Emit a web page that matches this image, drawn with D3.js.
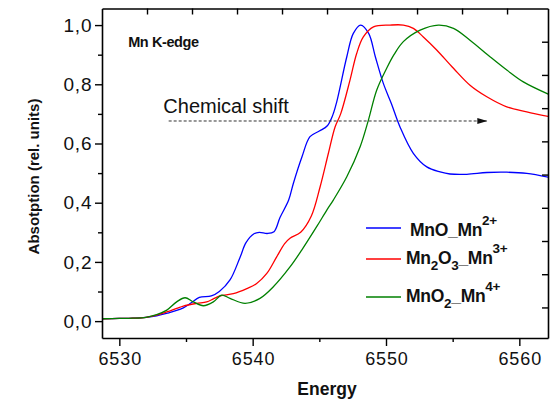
<!DOCTYPE html>
<html>
<head>
<meta charset="utf-8">
<script src="https://cdn.jsdelivr.net/npm/d3@7/dist/d3.min.js"></script>
<style>
  html, body { margin: 0; padding: 0; background: #fff; }
  svg { display: block; font-family: "Liberation Sans", Arial, sans-serif; }
</style>
</head>
<body>
<svg id="chart" width="551" height="401"></svg>
<script>
// Mn K-edge XANES spectra of three manganese oxides
const mnoEnergy = [6528.7, 6530, 6531, 6532, 6532.8, 6533.6, 6534.3, 6534.8, 6535.4, 6536.0, 6536.9, 6537.5, 6538.3, 6539.05, 6539.5, 6540.1, 6540.5, 6541.1, 6541.6, 6542.05, 6542.7, 6543.05, 6543.7, 6544.3, 6545.0, 6545.6, 6546.0, 6546.3, 6547.06, 6547.55, 6548.1, 6548.7, 6549.2, 6549.8, 6550.4, 6551.05, 6552.05, 6553.06, 6554.06, 6554.8, 6556.06, 6557.56, 6559.06, 6560.56, 6562.3];
const mnoAbs    = [0.008, 0.009, 0.010, 0.013, 0.018, 0.027, 0.036, 0.045, 0.062, 0.080, 0.085, 0.100, 0.139, 0.215, 0.265, 0.295, 0.300, 0.296, 0.302, 0.350, 0.409, 0.465, 0.555, 0.623, 0.642, 0.660, 0.695, 0.740, 0.893, 0.972, 1.000, 0.972, 0.893, 0.803, 0.735, 0.656, 0.567, 0.521, 0.504, 0.497, 0.496, 0.502, 0.503, 0.499, 0.485];

const mn2o3Energy = [6528.7, 6530, 6531, 6532, 6532.8, 6533.56, 6534.3, 6534.8, 6535.8, 6536.55, 6537.05, 6537.55, 6538.55, 6539.56, 6540.3, 6541.06, 6541.8, 6542.4, 6542.8, 6543.6, 6544.4, 6545.06, 6545.68, 6546.18, 6546.6, 6547.3, 6547.8, 6548.3, 6549.06, 6550.3, 6551.3, 6552.05, 6552.8, 6553.8, 6555.06, 6556.3, 6557.56, 6559.06, 6560.56, 6562.3];
const mn2o3Abs    = [0.008, 0.009, 0.010, 0.013, 0.020, 0.031, 0.043, 0.051, 0.060, 0.065, 0.075, 0.085, 0.093, 0.110, 0.127, 0.161, 0.217, 0.262, 0.280, 0.300, 0.355, 0.454, 0.567, 0.656, 0.700, 0.814, 0.904, 0.960, 0.994, 1.000, 1.000, 0.989, 0.960, 0.916, 0.854, 0.797, 0.758, 0.724, 0.707, 0.690];

const mno2Energy = [6528.7, 6530, 6531, 6532, 6532.8, 6533.56, 6534.3, 6534.93, 6535.55, 6536.3, 6537.05, 6537.68, 6538.3, 6539.43, 6540.55, 6541.55, 6542.8, 6543.68, 6544.8, 6545.56, 6546.05, 6547.06, 6548.06, 6548.68, 6549.3, 6550.06, 6550.6, 6551.3, 6552.56, 6553.93, 6555.06, 6556.3, 6557.8, 6559.06, 6560.3, 6562.3];
const mno2Abs    = [0.008, 0.009, 0.010, 0.013, 0.022, 0.037, 0.065, 0.079, 0.065, 0.052, 0.065, 0.088, 0.077, 0.060, 0.077, 0.116, 0.183, 0.240, 0.319, 0.375, 0.409, 0.4875, 0.589, 0.679, 0.780, 0.855, 0.900, 0.944, 0.983, 1.000, 0.989, 0.949, 0.893, 0.848, 0.808, 0.764];

const seriesNames  = ["MnO_Mn2+", "Mn2O3_Mn3+", "MnO2_Mn4+"];
const seriesColors = ["#0000ff", "#ff0000", "#008000"];

const xTicks = [6530, 6540, 6550, 6560];
const xMinorTicks = [6535, 6545, 6555];
const yTicks = [0.0, 0.2, 0.4, 0.6, 0.8, 1.0];
const yMinorTicks = [0.1, 0.3, 0.5, 0.7, 0.9];

const svg = d3.select("#chart");
const plot = { left: 102, right: 548, top: 8.5, bottom: 338 };

const x = d3.scaleLinear().domain([6528.7, 6562.15]).range([plot.left, plot.right]);
const y = d3.scaleLinear().domain([-0.057, 1.056]).range([plot.bottom, plot.top]);

svg.append("rect").attr("width", 551).attr("height", 401).attr("fill", "#fff");

svg.append("defs").append("clipPath").attr("id", "clip")
  .append("rect")
  .attr("x", plot.left).attr("y", plot.top)
  .attr("width", plot.right - plot.left).attr("height", plot.bottom - plot.top);

// Curves
const series = [
  { e: mnoEnergy, v: mnoAbs },
  { e: mn2o3Energy, v: mn2o3Abs },
  { e: mno2Energy, v: mno2Abs }
];
const line = d3.line()
  .x(d => x(d[0])).y(d => y(d[1]))
  .curve(d3.curveCatmullRom.alpha(0.5));

svg.append("g").attr("clip-path", "url(#clip)")
  .selectAll("path").data(series).join("path")
  .attr("d", s => line(s.e.map((e, i) => [e, s.v[i]])))
  .attr("fill", "none")
  .attr("stroke", (s, i) => seriesColors[i])
  .attr("stroke-width", 1.3);

// Axes
const xAxis = d3.axisBottom(x).tickValues(xTicks).tickFormat(d3.format("d"))
  .tickSizeInner(8).tickSizeOuter(0).tickPadding(6.5);
const gx = svg.append("g").attr("transform", `translate(0,${plot.bottom})`).call(xAxis);
gx.selectAll("text").attr("font-size", 18).attr("letter-spacing", 0.9)
  .attr("dx", 0.45).attr("fill", "#111");
svg.append("g").attr("transform", `translate(0,${plot.bottom})`)
  .call(d3.axisBottom(x).tickValues(xMinorTicks).tickFormat("").tickSizeInner(4).tickSizeOuter(0))
  .select(".domain").remove();

const fmtComma = d => d3.format(".1f")(d).replace(".", ",");
const yAxis = d3.axisLeft(y).tickValues(yTicks).tickFormat(fmtComma)
  .tickSizeInner(7).tickSizeOuter(0).tickPadding(3.5);
const gy = svg.append("g").attr("transform", `translate(${plot.left},0)`).call(yAxis);
gy.selectAll("text").attr("font-size", 19).attr("letter-spacing", 0.8)
  .attr("dx", 0.8).attr("fill", "#111");
svg.append("g").attr("transform", `translate(${plot.left},0)`)
  .call(d3.axisLeft(y).tickValues(yMinorTicks).tickFormat("").tickSizeInner(4).tickSizeOuter(0))
  .select(".domain").remove();

// Opposite axes carry their own evenly spaced ticks
const topScale = d3.scaleLinear().domain([0, 9.91]).range([plot.left, plot.right]);
svg.append("g").attr("transform", `translate(0,${plot.top})`)
  .call(d3.axisTop(topScale).tickValues(d3.range(1, 10)).tickFormat("").tickSizeInner(-6).tickSizeOuter(0));
const rightScale = d3.scaleLinear().domain([0, 9.92]).range([plot.top, plot.bottom]);
svg.append("g").attr("transform", `translate(${plot.right},0)`)
  .call(d3.axisRight(rightScale).tickValues(d3.range(1, 10)).tickFormat("").tickSizeInner(-6).tickSizeOuter(0));

svg.selectAll(".domain, .tick line").attr("stroke", "#000").attr("stroke-width", 1.4);
svg.selectAll(".domain").attr("stroke-width", 1.6);

// Axis titles
svg.append("text")
  .attr("x", (plot.left + plot.right) / 2 + 2).attr("y", 395)
  .attr("text-anchor", "middle").attr("font-size", 17.5).attr("font-weight", "bold")
  .attr("fill", "#111").text("Energy");

svg.append("text")
  .attr("transform", "translate(38.5,176.5) rotate(-90)")
  .attr("text-anchor", "middle").attr("font-size", 15).attr("font-weight", "bold")
  .attr("fill", "#111").text("Absotption (rel. units)");

// Annotations
svg.append("text")
  .attr("x", x(6530.66)).attr("y", y(0.927))
  .attr("font-size", 14.5).attr("font-weight", "bold").attr("letter-spacing", -0.4)
  .attr("fill", "#111").text("Mn K-edge");

svg.append("text")
  .attr("x", x(6533.3)).attr("y", y(0.703))
  .attr("font-size", 20).attr("fill", "#111").text("Chemical shift");

svg.select("defs").append("marker")
  .attr("id", "arrow").attr("viewBox", "0 0 10 6")
  .attr("refX", 10).attr("refY", 3)
  .attr("markerWidth", 11).attr("markerHeight", 6)
  .attr("markerUnits", "userSpaceOnUse").attr("orient", "auto")
  .append("path").attr("d", "M0,0 L10,3 L0,6 Z").attr("fill", "#111");

svg.append("line")
  .attr("x1", x(6533.7)).attr("x2", x(6557.6))
  .attr("y1", y(0.676)).attr("y2", y(0.676))
  .attr("stroke", "#333").attr("stroke-width", 1)
  .attr("stroke-dasharray", "3,2")
  .attr("marker-end", "url(#arrow)");

// Legend
const legendRows = [
  { ly: 228, ty: 236, tx: 410, parts: [["MnO_Mn", 0], ["2+", 1]] },
  { ly: 259, ty: 264, tx: 406, parts: [["Mn", 0], ["2", -1], ["O", 0], ["3", -1], ["_Mn", 0], ["3+", 1]] },
  { ly: 297, ty: 302, tx: 406, parts: [["MnO", 0], ["2", -1], ["_Mn", 0], ["4+", 1]] }
];
const legend = svg.append("g");
legendRows.forEach((row, i) => {
  legend.append("line")
    .attr("x1", 366).attr("x2", 401).attr("y1", row.ly).attr("y2", row.ly)
    .attr("stroke", seriesColors[i]).attr("stroke-width", 1.3);
  const t = legend.append("text")
    .attr("x", row.tx).attr("y", row.ty)
    .attr("font-size", 17.5).attr("font-weight", "bold").attr("fill", "#111")
    .attr("letter-spacing", -0.3)
    .attr("aria-label", seriesNames[i]);
  let prev = 0;
  row.parts.forEach(([s, level]) => {
    const shift = level === 1 ? -11 : level === -1 ? 6 : 0;
    t.append("tspan")
      .attr("dy", shift - prev)
      .attr("font-size", level === 0 ? 17.5 : 13.5)
      .text(s);
    prev = shift;
  });
});
</script>
</body>
</html>
